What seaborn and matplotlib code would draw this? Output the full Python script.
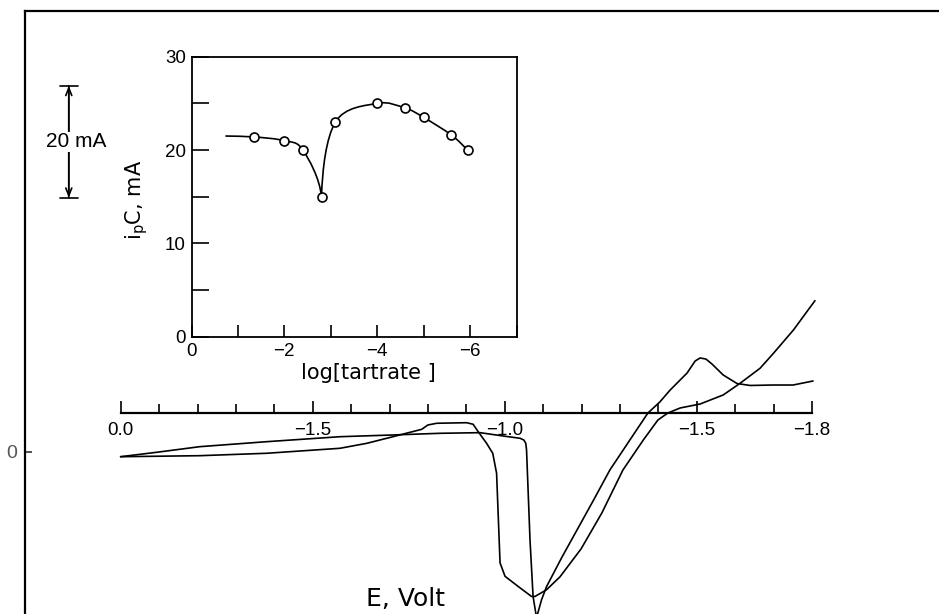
import numpy as np
import matplotlib
matplotlib.use("Agg")
import matplotlib.pyplot as plt
from matplotlib.path import Path
from matplotlib.patches import PathPatch
from matplotlib.ticker import MultipleLocator
import seaborn as sns

# ---------------------------------------------------------------------------
# Cyclic polarogram: potential E (V) and current (mA) for the two sweeps
# ---------------------------------------------------------------------------
sweep_a_E = [0.000, -0.100, -0.206, -0.380, -0.571, -0.709, -0.832, -0.936,
             -1.000, -1.040, -1.050, -1.055, -1.057, -1.066, -1.074, -1.083,
             -1.096, -1.109, -1.149, -1.191, -1.233, -1.274, -1.326, -1.373,
             -1.404, -1.431, -1.475, -1.496, -1.509, -1.524, -1.540, -1.569,
             -1.605, -1.639, -1.699, -1.751, -1.803]
sweep_a_I = [-0.84, 0.00, 0.95, 1.84, 2.73, 3.04, 3.34, 3.45,
             2.82, 2.45, 2.14, 1.55, 0.36, -15.7, -25.8, -29.6,
             -26.4, -24.05, -18.8, -13.6, -8.4, -3.21, 2.14, 6.96,
             8.93, 11.07, 14.1, 16.25, 16.79, 16.6, 15.7, 13.75,
             12.23, 11.88, 11.96, 11.96, 12.68]

sweep_b_E = [0.000, -0.206, -0.380, -0.571, -0.641, -0.709, -0.784, -0.800,
             -0.823, -0.901, -0.918, -0.931, -0.953, -0.969, -0.979, -0.988,
             -1.001, -1.035, -1.070, -1.079, -1.109, -1.144, -1.199, -1.253,
             -1.308, -1.361, -1.399, -1.425, -1.457, -1.509, -1.569, -1.613,
             -1.665, -1.700, -1.752, -1.808]
sweep_b_I = [-0.84, -0.66, -0.23, 0.66, 1.55, 2.73, 4.05, 4.82,
             5.13, 5.23, 4.95, 3.63, 1.55, -0.23, -3.80, -19.8,
             -22.2, -24.0, -25.8, -25.8, -24.6, -22.3, -17.3, -10.9,
             -3.21, 2.14, 5.71, 6.96, 7.86, 8.57, 10.18, 12.27,
             14.95, 17.63, 21.79, 27.02]

# Potential axis ticks (labels as printed on the recorder chart)
e_major_ticks = [0.0, -0.5, -1.0, -1.5, -1.8]
e_major_labels = ["0.0", "\u22121.5", "\u22121.0", "\u22121.5", "\u22121.8"]

# Current scale bar
scale_bar_mA = 20
scale_bar_top = 65.4
scale_bar_E = 0.135

# ---------------------------------------------------------------------------
# Inset: cathodic peak current vs log[tartrate]
# ---------------------------------------------------------------------------
log_tartrate = [-1.35, -2.0, -2.4, -2.8, -3.1, -4.0, -4.6, -5.0, -5.6, -5.95]
peak_current = [21.4, 21.0, 20.0, 15.0, 23.0, 25.0, 24.5, 23.5, 21.6, 20.0]
trend_start = (-0.73, 21.5)      # flat part of the guide curve
minimum_index = 3                # cusp of the guide curve

inset_xticks = [0, -1, -2, -3, -4, -5, -6, -7]
inset_xlabels = ["0", "", "\u22122", "", "\u22124", "", "\u22126", ""]
inset_yticks = [0, 5, 10, 15, 20, 25, 30]
inset_ylabels = ["0", "", "10", "", "20", "", "30"]

# ---------------------------------------------------------------------------
sns.set_theme(style="ticks")
plt.rcParams["font.family"] = ["Liberation Sans", "DejaVu Sans"]
plt.rcParams["axes.unicode_minus"] = True
for key in ("text.color", "axes.labelcolor", "xtick.color", "ytick.color",
            "axes.edgecolor"):
    plt.rcParams[key] = "black"

W, H = 939, 614
fig = plt.figure(figsize=(W / 100, H / 100), dpi=100)
fig.patch.set_facecolor("white")


def fx(px):
    return px / W


def fy(py):
    return 1 - py / H


# Main frame: current axis (left) and top border
ax = fig.add_axes([fx(25), 0, 1 - fx(25), fy(11)])
ax.set_facecolor("none")
ax.set_xlim(0.249, -2.131)
ax.set_ylim(-28.93, 78.75)
for side in ("right", "bottom"):
    ax.spines[side].set_visible(False)
for side in ("left", "top"):
    ax.spines[side].set_linewidth(1.6)
    ax.spines[side].set_color("black")
ax.set_xticks([])
ax.set_yticks([0])
ax.set_yticklabels(["0"])
ax.tick_params(axis="y", left=True, direction="in", length=5, width=1.2,
               pad=6, labelsize=14, labelcolor="#555555", color="#333333")

sns.lineplot(x=sweep_a_E, y=sweep_a_I, ax=ax, sort=False, estimator=None,
             color="black", linewidth=1.2)
sns.lineplot(x=sweep_b_E, y=sweep_b_I, ax=ax, sort=False, estimator=None,
             color="black", linewidth=1.2)

# Scale bar for current
ax.annotate("", xy=(scale_bar_E, scale_bar_top),
            xytext=(scale_bar_E, scale_bar_top - scale_bar_mA),
            arrowprops=dict(arrowstyle="|-|, widthA=0.55, widthB=0.55",
                            lw=1.2, color="black", shrinkA=0, shrinkB=0))
ax.annotate("", xy=(scale_bar_E, scale_bar_top),
            xytext=(scale_bar_E, scale_bar_top - scale_bar_mA),
            arrowprops=dict(arrowstyle="<->, head_length=0.45, head_width=0.18",
                            lw=1.2, color="black", shrinkA=0, shrinkB=0))
ax.text(0.115, scale_bar_top - scale_bar_mA / 2, "20 mA", ha="center",
        va="center", fontsize=15,
        bbox=dict(facecolor="white", edgecolor="none", pad=0.5))

# Potential axis
axE = fig.add_axes([fx(120.7), fy(412.7), fx(812) - fx(120.7), 0.05])
axE.set_facecolor("none")
axE.set_xlim(0, -1.8)
for side in ("left", "right", "top"):
    axE.spines[side].set_visible(False)
axE.spines["bottom"].set_linewidth(1.6)
axE.spines["bottom"].set_color("black")
axE.set_yticks([])
axE.set_xticks(e_major_ticks)
axE.set_xticklabels(e_major_labels)
axE.xaxis.set_minor_locator(MultipleLocator(0.1))
axE.tick_params(axis="x", which="major", bottom=True, direction="in",
                length=9, width=1.2, pad=6.5, labelsize=13.5, color="black")
axE.tick_params(axis="x", which="minor", bottom=True, direction="in",
                length=6.3, width=1.2, color="black")
axE.set_xlabel("E, Volt", fontsize=18, family=["DejaVu Sans"])
axE.xaxis.set_label_coords(fx(405), fy(599), transform=fig.transFigure)
axE.xaxis.label.set_va("center")

# Inset
ax_in = fig.add_axes([fx(191.5), fy(336.7), fx(516.5) - fx(191.5),
                      fy(56.7) - fy(336.7)])
ax_in.set_facecolor("white")
ax_in.set_xlim(0, -7)
ax_in.set_ylim(0, 30)
for side in ax_in.spines.values():
    side.set_linewidth(1.3)
    side.set_color("black")
ax_in.set_xticks(inset_xticks)
ax_in.set_xticklabels(inset_xlabels)
ax_in.set_yticks(inset_yticks)
ax_in.set_yticklabels(inset_ylabels)
ax_in.tick_params(axis="x", bottom=True, direction="in", length=8.4,
                  width=1.2, pad=4.5, labelsize=13.5)
ax_in.tick_params(axis="y", left=True, direction="in", length=12,
                  width=1.2, pad=4, labelsize=13.5)
ax_in.set_xlabel("log[tartrate ]", fontsize=15, family=["DejaVu Sans"])
ax_in.xaxis.set_label_coords(0.545, -0.13)
ax_in.xaxis.label.set_va("center")
ax_in.set_ylabel(r"i$_\mathregular{p}$C, mA", fontsize=15,
                 family=["DejaVu Sans"])
ax_in.yaxis.set_label_coords(-0.168, 0.488)
ax_in.yaxis.label.set_va("center")


def smooth_path(points, t_start=None, t_end=None):
    """Catmull-Rom guide curve through the points, as cubic Bezier pieces."""
    p = np.asarray(points, dtype=float)
    n = len(p)
    tang = np.zeros_like(p)
    for i in range(n):
        if i == 0:
            tang[i] = p[1] - p[0] if t_start is None else t_start
        elif i == n - 1:
            tang[i] = p[-1] - p[-2] if t_end is None else t_end
        else:
            tang[i] = (p[i + 1] - p[i - 1]) / 2
    verts = [p[0]]
    codes = [Path.MOVETO]
    for i in range(n - 1):
        verts += [p[i] + tang[i] / 3, p[i + 1] - tang[i + 1] / 3, p[i + 1]]
        codes += [Path.CURVE4] * 3
    return Path(verts, codes)


pts = list(zip(log_tartrate, peak_current))
left_branch = [trend_start] + pts[:minimum_index + 1]
right_branch = pts[minimum_index:]
ax_in.add_patch(PathPatch(smooth_path(left_branch, t_end=(-0.12, -6.0)),
                          fill=False, lw=1.2, color="black", zorder=2))
ax_in.add_patch(PathPatch(smooth_path(right_branch, t_start=(-0.06, 9.0)),
                          fill=False, lw=1.2, color="black", zorder=2))
sns.scatterplot(x=log_tartrate, y=peak_current, ax=ax_in, marker="o", s=42,
                facecolor="white", edgecolor="black", linewidth=1.2,
                zorder=3)

fig.savefig("out.png", dpi=100, facecolor="white")
